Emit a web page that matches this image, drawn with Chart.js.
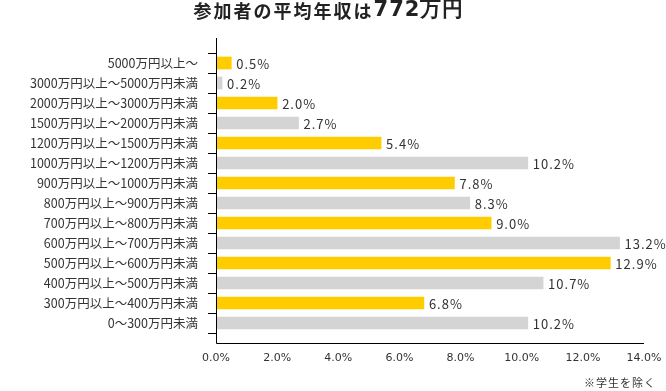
<!DOCTYPE html>
<html>
<head>
<meta charset="utf-8">
<script src="https://cdn.jsdelivr.net/npm/chart.js@4.4.1/dist/chart.umd.min.js"></script>
<style>
  body { margin: 0; background: #fff; }
</style>
</head>
<body>
<canvas id="income-chart" width="666" height="391"></canvas>
<script>
const categories = [
    '5000万円以上～',
    '3000万円以上～5000万円未満',
    '2000万円以上～3000万円未満',
    '1500万円以上～2000万円未満',
    '1200万円以上～1500万円未満',
    '1000万円以上～1200万円未満',
    '900万円以上～1000万円未満',
    '800万円以上～900万円未満',
    '700万円以上～800万円未満',
    '600万円以上～700万円未満',
    '500万円以上～600万円未満',
    '400万円以上～500万円未満',
    '300万円以上～400万円未満',
    '0～300万円未満',
]
const values = [0.5, 0.2, 2.0, 2.7, 5.4, 10.2, 7.8, 8.3, 9.0, 13.2, 12.9, 10.7, 6.8, 10.2]
const xTicks = [0, 2, 4, 6, 8, 10, 12, 14]
const titleText = '参加者の平均年収は'
const titleAmount = '772万円'
const noteText = '※学生を除く'

const palette = ['#ffcc00', '#d4d4d4']
const textColor = '#333'

// axis lines, value labels, title and note
const overlay = {
    id: 'overlay',
    afterDatasetsDraw(chart) {
        const ctx = chart.ctx
        const area = chart.chartArea
        const x = chart.scales.x
        ctx.save()

        ctx.strokeStyle = '#000'
        ctx.lineWidth = 1
        ctx.beginPath()
        ctx.moveTo(area.left + 0.5, area.top - 15)
        ctx.lineTo(area.left + 0.5, area.bottom + 10.5)
        ctx.lineTo(x.getPixelForValue(xTicks[xTicks.length - 1]), area.bottom + 10.5)
        ctx.stroke()

        ctx.fillStyle = textColor
        ctx.textBaseline = 'middle'
        ctx.textAlign = 'left'
        ctx.font = '13px "Noto Sans CJK JP"'
        ctx.letterSpacing = '1px'
        chart.getDatasetMeta(0).data.forEach((bar, i) => {
            ctx.fillText(values[i].toFixed(1) + '%', bar.x + 5, bar.y + 1)
        })

        // title in two weights
        ctx.fillStyle = '#222'
        ctx.font = 'bold 18px "Noto Sans CJK JP"'
        ctx.letterSpacing = '2px'
        const w1 = ctx.measureText(titleText).width
        ctx.font = 'bold 21px "DejaVu Sans"'
        ctx.letterSpacing = '1px'
        const w2 = ctx.measureText(titleAmount).width
        let tx = 329 - (w1 + w2) / 2
        ctx.font = 'bold 18px "Noto Sans CJK JP"'
        ctx.letterSpacing = '2px'
        ctx.fillText(titleText, tx, 11)
        ctx.font = 'bold 21px "DejaVu Sans"'
        ctx.letterSpacing = '1px'
        ctx.fillText(titleAmount, tx + w1, 11)

        ctx.fillStyle = textColor
        ctx.font = '11px "Noto Sans CJK JP"'
        ctx.letterSpacing = '1px'
        ctx.textAlign = 'right'
        ctx.fillText(noteText, 656, 383)
        ctx.restore()
    },
}

new Chart('income-chart', {
    type: 'bar',
    data: {
        labels: categories,
        datasets: [
            {
                data: values,
                backgroundColor: values.map((v, i) => palette[i % 2]),
                barThickness: 12,
                borderWidth: 0,
            },
        ],
    },
    options: {
        indexAxis: 'y',
        responsive: false,
        animation: false,
        layout: {
            padding: { top: 53, right: 22, bottom: 0, left: 0 },
        },
        plugins: {
            legend: { display: false },
            tooltip: { enabled: false },
            title: { display: false },
        },
        scales: {
            x: {
                min: xTicks[0],
                max: xTicks[xTicks.length - 1],
                afterFit(scale) {
                    scale.height = 58
                    scale.paddingLeft = 0
                    scale.paddingRight = 0
                },
                afterBuildTicks(scale) {
                    scale.ticks = xTicks.map(v => ({ value: v }))
                },
                border: { display: false },
                grid: { display: false, drawTicks: false },
                ticks: {
                    padding: 19,
                    color: textColor,
                    font: { family: 'DejaVu Sans', size: 11 },
                    callback: v => v.toFixed(1) + '%',
                },
            },
            y: {
                afterFit(scale) {
                    scale.width = 216
                    scale.paddingTop = 0
                    scale.paddingBottom = 0
                },
                border: { display: false },
                grid: {
                    drawOnChartArea: false,
                    drawTicks: true,
                    tickLength: 8,
                    tickColor: c => (c.index === categories.length ? 'transparent' : '#000'),
                },
                ticks: {
                    padding: 10,
                    color: textColor,
                    font: { family: 'Noto Sans CJK JP', size: 12.5 },
                },
            },
        },
    },
    plugins: [overlay],
})
</script>
</body>
</html>
